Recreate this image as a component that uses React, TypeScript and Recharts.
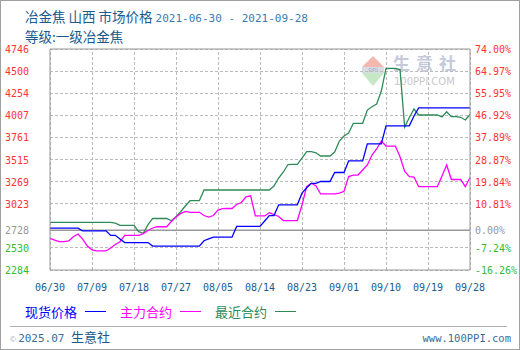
import React from 'react';
import { LineChart, Line, XAxis, YAxis, ReferenceLine } from 'recharts';

// daily values, 2021-06-30 .. 2021-09-28 (yuan/ton)
const spotPrice = [
  2750, 2750, 2750, 2750, 2750, 2750, 2750,
  2720, 2720, 2720, 2720, 2720, 2720,
  2670, 2670, 2630,
  2590, 2590, 2590, 2590, 2590, 2590,
  2550, 2550, 2550, 2550, 2550, 2550, 2550, 2550, 2550, 2550, 2550,
  2610, 2630, 2650, 2650, 2650, 2650, 2650,
  2770, 2770, 2770, 2770, 2770, 2770,
  2830, 2890, 2890,
  3010, 3010, 3010, 3010, 3010,
  3140, 3200, 3250, 3250, 3270, 3270, 3270,
  3370, 3370, 3370, 3500, 3500, 3500, 3500,
  3690, 3690, 3690, 3690,
  3890, 3890, 3890, 3890, 3890, 3890, 4000,
  4090, 4090, 4090, 4090, 4090, 4090, 4090, 4090, 4090, 4090, 4090, 4090,
];

const mainContract = [
  2637, 2618, 2599, 2599, 2607, 2655, 2685, 2629, 2551, 2507,
  2496, 2496, 2496, 2529, 2568, 2599, 2670, 2670, 2670, 2670,
  2690, 2724, 2752, 2766, 2766, 2766, 2824, 2874, 2913, 2936,
  2927, 2927, 2927, 2891, 2874, 2891, 2952, 2967, 2969, 2969,
  3014, 3036, 3100, 3110, 2886, 2886, 2886, 2922, 2902, 2880,
  2835, 2835, 2835, 2835, 3008, 3212, 3250, 3220, 3131, 3131,
  3131, 3131, 3140, 3160, 3325, 3342, 3342, 3398, 3454, 3565,
  3632, 3721, 3665, 3665, 3665, 3546, 3381, 3323, 3320, 3212,
  3212, 3212, 3212, 3212, 3331, 3454, 3292, 3292, 3292, 3212,
  3314,
];

const nearContract = [
  2815, 2815, 2815, 2815, 2815, 2815, 2815, 2815, 2815, 2815,
  2815, 2815, 2815, 2815, 2805, 2782, 2782, 2782, 2782, 2711,
  2693, 2790, 2860, 2858, 2858, 2858, 2833, 2878, 2933, 2997,
  3056, 3056, 3056, 3175, 3175, 3175, 3175, 3175, 3175, 3175,
  3175, 3175, 3175, 3175, 3175, 3175, 3175, 3175, 3220, 3309,
  3376, 3459, 3461, 3460, 3530, 3602, 3602, 3590, 3554, 3554,
  3554, 3598, 3721, 3777, 3810, 3918, 3918, 3918, 4066, 4103,
  4133, 4278, 4529, 4531, 4531, 4517, 3877, 3983, 4078, 4011,
  4011, 4011, 4011, 4011, 3988, 4047, 3992, 3992, 3985, 3955,
  4016,
];

const xTickLabels = ['06/30', '07/09', '07/18', '07/27', '08/05', '08/14', '08/23', '09/01', '09/10', '09/19', '09/28'];
const priceTicks = [2284, 2530, 2728, 3023, 3269, 3515, 3761, 4007, 4254, 4500, 4746];
const pctTicks = [-16.26, -7.24, 0, 10.81, 19.84, 28.87, 37.89, 46.92, 55.95, 64.97, 74];
const basePrice = 2728;

const dates: string[] = [];
for (let i = 0; i < spotPrice.length; i++) {
  const d = new Date(Date.UTC(2021, 5, 30 + i));
  dates.push(String(d.getUTCMonth() + 1).padStart(2, '0') + '/' + String(d.getUTCDate()).padStart(2, '0'));
}

const data = dates.map((date, i) => ({
  i,
  date,
  spot: spotPrice[i],
  main: mainContract[i],
  near: nearContract[i],
  // change of spot vs. base price, only drives the right-hand % axis
  pct: (spotPrice[i] / basePrice - 1) * 100,
}));

const xTickIdx = xTickLabels.map((l) => dates.indexOf(l));

const MONO = '"DejaVu Sans Mono", monospace';
const CJK = '"Noto Sans CJK SC", sans-serif';
const TITLE = '#1b5a8c';
const GRID = '#bcbcbc';

const tickColor = (v: number, zero: number) => (v > zero ? '#ff3333' : v < zero ? '#33bb33' : '#999999');

const LeftTick = (props: any) => {
  const { y, payload } = props;
  return (
    <text x={28} y={y} dy={4} textAnchor="end" fontFamily={MONO} fontSize={10} fill={tickColor(payload.value, basePrice)}>
      {payload.value}
    </text>
  );
};

const RightTick = (props: any) => {
  const { y, payload } = props;
  return (
    <text x={474} y={y} dy={4} textAnchor="start" fontFamily={MONO} fontSize={10} fill={tickColor(payload.value, 0)}>
      {payload.value.toFixed(2) + '%'}
    </text>
  );
};

const BottomTick = (props: any) => {
  const { x, payload } = props;
  return (
    <text x={x} y={290} textAnchor="middle" fontFamily={MONO} fontSize={10} fill={TITLE}>
      {dates[payload.value]}
    </text>
  );
};

const legendItems = [
  { name: '现货价格', color: '#0000ff', left: 24 },
  { name: '主力合约', color: '#ff00ff', left: 119 },
  { name: '最近合约', color: '#2e8b57', left: 214 },
];

export default function App() {
  const gridLines = [
    ...priceTicks.map((t) => (
      <ReferenceLine key={'h' + t} y={t} stroke={GRID} strokeWidth={1} strokeDasharray="3 2" shapeRendering="crispEdges" />
    )),
    ...xTickIdx.map((t) => (
      <ReferenceLine key={'v' + t} x={t} stroke={GRID} strokeWidth={1} strokeDasharray="3 2" shapeRendering="crispEdges" />
    )),
  ];
  return (
    <div
      style={{
        position: 'absolute',
        left: 0,
        top: 0,
        width: 520,
        height: 350,
        background: '#fff',
        border: '1px solid #a0a0a0',
        boxSizing: 'border-box',
        overflow: 'hidden',
      }}
    >
      {/* watermark */}
      <svg style={{ position: 'absolute', left: 361, top: 54 }} width={24} height={32}>
        <polygon points="0,12 11,1 22,12" fill="#f4b8b0" />
        <rect x={0} y={12} width={22} height={6} fill="#d8dce4" />
        <text x={11} y={17} textAnchor="middle" fontSize={6} fontFamily="sans-serif" fill="#a8b0c8">PPI</text>
        <polygon points="0,18 22,18 11,31" fill="#c6e8c6" />
      </svg>
      <div style={{ position: 'absolute', left: 392, top: 53, fontFamily: CJK, fontSize: 17, lineHeight: 1, letterSpacing: 6, color: '#c4cadc', fontWeight: 700 }}>
        生意社
      </div>
      <div style={{ position: 'absolute', left: 393, top: 76, fontFamily: '"DejaVu Sans", sans-serif', fontSize: 10, lineHeight: 1, color: '#c8c8c8' }}>
        100PPI.COM
      </div>

      <LineChart
        width={518}
        height={348}
        data={data}
        margin={{ top: 48, right: 0, bottom: 49, left: 0 }}
        style={{ position: 'absolute', left: 0, top: 0 }}
      >
        <XAxis
          dataKey="i"
          type="number"
          domain={[0, 90]}
          ticks={xTickIdx}
          interval={0}
          height={30}
          tickLine={false}
          axisLine={{ stroke: '#999' }}
          tick={<BottomTick />}
        />
        <YAxis
          type="number"
          domain={[2284, 4746]}
          ticks={priceTicks}
          interval={0}
          width={49}
          tickLine={false}
          axisLine={{ stroke: '#999' }}
          tick={<LeftTick />}
        />
        <YAxis
          yAxisId="right"
          orientation="right"
          type="number"
          domain={[-16.26, 74]}
          ticks={pctTicks}
          interval={0}
          width={49}
          tickLine={false}
          axisLine={{ stroke: '#999' }}
          tick={<RightTick />}
        />
        {gridLines}
        <ReferenceLine y={4746} stroke="#999" />
        <ReferenceLine y={basePrice} stroke="#999" strokeWidth={1.5} />
        <Line yAxisId="right" dataKey="pct" stroke="none" dot={false} activeDot={false} isAnimationActive={false} />
        <Line dataKey="near" stroke="#2e8b57" strokeWidth={1.3} dot={false} isAnimationActive={false} />
        <Line dataKey="main" stroke="#ff00ff" strokeWidth={1.3} dot={false} isAnimationActive={false} />
        <Line dataKey="spot" stroke="#0000ff" strokeWidth={1.3} dot={false} isAnimationActive={false} />
      </LineChart>

      <div style={{ position: 'absolute', left: 24, top: 6, whiteSpace: 'pre', color: TITLE, lineHeight: '18px' }}>
        <span style={{ fontFamily: CJK, fontSize: 13.5 }}>冶金焦 山西 市场价格 </span>
        <span style={{ fontFamily: MONO, fontSize: 11, color: '#3a7cb0' }}>2021-06-30 - 2021-09-28</span>
      </div>
      <div style={{ position: 'absolute', left: 24, top: 26, whiteSpace: 'pre', color: TITLE, fontFamily: CJK, fontSize: 13.5, lineHeight: '18px' }}>
        等级:一级冶金焦
      </div>

      {legendItems.map((it) => (
        <div key={it.name} style={{ position: 'absolute', left: it.left, top: 301, display: 'flex', alignItems: 'center', height: 18 }}>
          <span style={{ fontFamily: CJK, fontSize: 13, color: it.color }}>{it.name}</span>
          <span style={{ display: 'inline-block', width: 21, height: 1, background: it.color, marginLeft: 8 }} />
        </div>
      ))}

      <div style={{ position: 'absolute', left: 9, top: 325, width: 497, height: 1, background: '#b0b0b0' }} />
      <div style={{ position: 'absolute', left: 9, top: 327, whiteSpace: 'pre', lineHeight: '18px', color: TITLE }}>
        <span style={{ fontSize: 8, color: '#a0a8b8', fontFamily: 'sans-serif' }}>© </span>
        <span style={{ fontFamily: MONO, fontSize: 11, color: '#3a6e98' }}>2025.07 </span>
        <span style={{ fontFamily: CJK, fontSize: 13 }}>生意社</span>
      </div>
      <div style={{ position: 'absolute', right: 8, top: 328, fontFamily: MONO, fontSize: 10.5, color: '#3a6e98', lineHeight: '18px' }}>
        www.100PPI.com
      </div>
    </div>
  );
}
